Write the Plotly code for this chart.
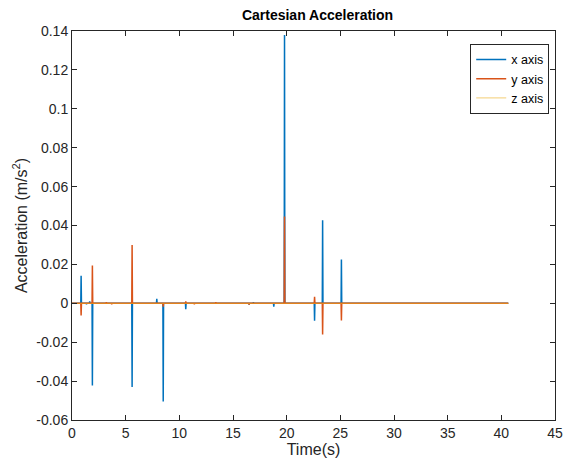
import plotly.graph_objects as go

# Sample times (s) and per-axis acceleration (m/s^2)
time_s = [0.0,
          0.82, 0.85, 0.88,
          1.32, 1.35, 1.38,
          1.62, 1.65, 1.68,
          1.87, 1.90, 1.93,
          3.17, 3.20, 3.23,
          3.67, 3.70, 3.73,
          5.57, 5.60, 5.63,
          7.87, 7.90, 7.93,
          8.47, 8.50, 8.53,
          10.57, 10.60, 10.63,
          11.37, 11.40, 11.43,
          13.37, 13.40, 13.43,
          16.47, 16.50, 16.53,
          16.87, 16.90, 16.93,
          18.77, 18.80, 18.83,
          19.77, 19.80, 19.83,
          22.57, 22.60, 22.63,
          23.32, 23.35, 23.38,
          25.07, 25.10, 25.13,
          40.65]
acc_x = [0.0,
         0.0, 0.0142, 0.0,
         0.0, -0.0005, 0.0,
         0.0, 0.0010, 0.0,
         0.0, -0.0423, 0.0,
         0.0, 0.0, 0.0,
         0.0, 0.0, 0.0,
         0.0, -0.0430, 0.0,
         0.0, 0.0023, 0.0,
         0.0, -0.0505, 0.0,
         0.0, -0.0030, 0.0,
         0.0, 0.0, 0.0,
         0.0, 0.0, 0.0,
         0.0, -0.0007, 0.0,
         0.0, 0.0005, 0.0,
         0.0, -0.0017, 0.0,
         0.0, 0.1380, 0.0,
         0.0, -0.0090, 0.0,
         0.0, 0.0427, 0.0,
         0.0, 0.0225, 0.0,
         0.0]
acc_y = [0.0,
         0.0, -0.0063, 0.0,
         0.0, 0.0, 0.0,
         0.0, 0.0, 0.0,
         0.0, 0.0194, 0.0,
         0.0, 0.0005, 0.0,
         0.0, -0.0005, 0.0,
         0.0, 0.0300, 0.0,
         0.0, 0.0, 0.0,
         0.0, -0.0017, 0.0,
         0.0, 0.0010, 0.0,
         0.0, -0.0005, 0.0,
         0.0, 0.0005, 0.0,
         0.0, -0.0007, 0.0,
         0.0, 0.0, 0.0,
         0.0, 0.0, 0.0,
         0.0, 0.0446, 0.0,
         0.0, 0.0034, 0.0,
         0.0, -0.0160, 0.0,
         0.0, -0.0089, 0.0,
         0.0]
acc_z = [0.0] * len(time_s)

series_names = ["x axis", "y axis", "z axis"]
x_ticks = [0, 5, 10, 15, 20, 25, 30, 35, 40, 45]
y_ticks = [-0.06, -0.04, -0.02, 0, 0.02, 0.04, 0.06, 0.08, 0.10, 0.12, 0.14]
y_tick_labels = ["-0.06", "-0.04", "-0.02", "0", "0.02", "0.04", "0.06", "0.08", "0.1", "0.12", "0.14"]

colors = ["#0072BD", "#D95319", "#EDB120"]
font_family = "Liberation Sans, Arial, sans-serif"

fig = go.Figure()
for vals, name, col, op in zip([acc_x, acc_y, acc_z], series_names, colors, [1.0, 1.0, 1.0]):
    fig.add_trace(go.Scatter(x=time_s, y=vals, mode="lines", name=name,
                             line=dict(color=col, width=1.5), opacity=op))
# baseline tint: the flat stretch in the reference reads teal (overlapping x/z lines)
fig.data[2].line.color = "#EDB120"
fig.data[2].opacity = 0.5
fig.data[2].line.width = 1.2

axis_common = dict(showgrid=False, zeroline=False, showline=True, mirror="ticks",
                   linecolor="#262626", linewidth=1, ticks="inside", ticklen=5,
                   tickcolor="#262626", tickfont=dict(family=font_family, size=14, color="#262626"))

fig.update_layout(
    width=574, height=472,
    margin=dict(l=72, r=11, t=31, b=52),
    paper_bgcolor="white", plot_bgcolor="white",
    title=dict(text="<b>Cartesian Acceleration</b>", x=(72 + 563) / 2 / 574, xanchor="center",
               y=1 - 15 / 472, yanchor="middle",
               font=dict(family=font_family, size=14, color="black")),
    xaxis=dict(range=[0, 45], tickvals=x_ticks,
               title=dict(text="Time(s)", font=dict(family=font_family, size=16, color="#262626"), standoff=4),
               **axis_common),
    yaxis=dict(range=[-0.06, 0.14], tickvals=y_ticks, ticktext=y_tick_labels,
               title=dict(text="Acceleration (m/s<sup>2</sup>)", font=dict(family=font_family, size=16, color="#262626"), standoff=4),
               **axis_common),
    legend=dict(x=0.988, y=0.967, xanchor="right", yanchor="top",
                bgcolor="white", bordercolor="#262626", borderwidth=1,
                font=dict(family=font_family, size=12.5, color="black"),
                tracegroupgap=0, itemwidth=30),
    showlegend=True,
)

fig.write_html("out.html")
